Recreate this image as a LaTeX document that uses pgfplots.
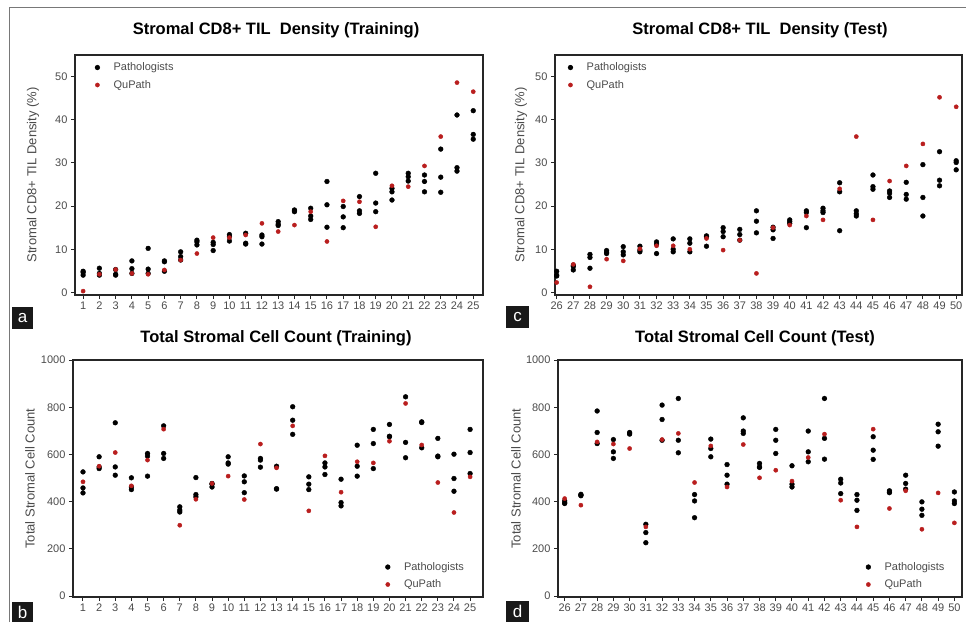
\documentclass[border=0pt]{standalone}
\usepackage{pgfplots}
\pgfplotsset{compat=1.18}
\usepackage{fontspec}
\setmainfont{Liberation Sans}
\definecolor{qred}{RGB}{185,30,30}
\definecolor{tgray}{RGB}{75,75,75}
\definecolor{framegray}{RGB}{120,120,120}
\pgfplotsset{
  panel/.style={
    scale only axis,
    axis line style={line width=1.3pt, black!85},
    tick style={line width=1pt, black!85},
    major tick length=4pt,
    tick align=outside,
    xtick pos=bottom, ytick pos=left,
    ticklabel style={font=\fontsize{11}{12}\selectfont, text=tgray},
    xticklabel style={yshift=1pt},
    /pgf/number format/assume math mode=true,
    /pgf/number format/set thousands separator={},
    ylabel style={font=\fontsize{13}{14}\selectfont, text=tgray, at={(rel axis cs:0,0.5)}, anchor=center},
    legend style={draw=none, fill=none, font=\fontsize{11}{12}\selectfont, text=tgray, row sep=4pt},
    legend cell align=left,
    legend image code/.code={\path (0pt,-2pt) (22pt,2pt); \draw[##1] plot coordinates {(8pt,0pt)};},
    clip=false,
  },
  pmark/.style={only marks, mark=*, mark size=2.4pt, black},
  qmark/.style={only marks, mark=*, mark size=2.1pt, qred},
}
\begin{document}
\begin{tikzpicture}[x=1pt,y=1pt]
\useasboundingbox (0,0) rectangle (966,622);
% outer frame
\draw[framegray, line width=1pt] (9,0) -- (9,614) -- (966,614);
% titles
\node[font=\fontsize{16.5}{18}\selectfont\bfseries] at (276,592) {Stromal CD8+ TIL\ \ Density (Training)};
\node[font=\fontsize{16.5}{18}\selectfont\bfseries] at (760,592) {Stromal CD8+ TIL\ \ Density (Test)};
\node[font=\fontsize{16.5}{18}\selectfont\bfseries] at (276,284) {Total Stromal Cell Count (Training)};
\node[font=\fontsize{16.5}{18}\selectfont\bfseries] at (755,284) {Total Stromal Cell Count (Test)};
% panel letters
\fill[black!90] (12,293) rectangle (33,315);
\node[text=white, font=\fontsize{17}{18}\selectfont] at (22.5,304) {a};
\fill[black!90] (12,0) rectangle (33,20);
\node[text=white, font=\fontsize{17}{18}\selectfont] at (22.5,10) {b};
\fill[black!90] (506,294) rectangle (529,316);
\node[text=white, font=\fontsize{17}{18}\selectfont] at (517.5,305) {c};
\fill[black!90] (506,0) rectangle (529,21);
\node[text=white, font=\fontsize{17}{18}\selectfont] at (517.5,10.5) {d};

% ---------------- Panel a ----------------
\begin{axis}[panel, at={(75pt,327pt)}, anchor=south west, width=408pt, height=240pt,
  xmin=0.5, xmax=25.6, ymin=-0.6, ymax=55,
  xtick={1,...,25}, ytick={0,10,20,30,40,50},
  ylabel={Stromal CD8+ TIL Density (\%)}, ylabel style={yshift=42pt},
  legend style={at={(rel axis cs:0.027,0.985)}, anchor=north west}]
\addplot[pmark] table {
x y
1 4.9
1 4.6
1 4.0
2 5.6
2 4.4
2 4.0
3 5.3
3 4.2
3 4.0
4 7.3
4 5.5
4 4.4
5 10.2
5 5.4
5 4.4
6 7.3
6 7.1
6 4.9
7 9.4
7 8.3
7 7.5
8 12.1
8 11.7
8 11.0
9 11.6
9 11.1
9 9.7
10 13.4
10 12.9
10 11.9
11 13.7
11 11.4
11 11.2
12 13.3
12 12.9
12 11.2
13 16.4
13 15.8
13 15.5
14 19.1
14 18.9
14 18.7
15 19.5
15 17.7
15 16.9
16 25.7
16 20.3
16 15.1
17 19.9
17 17.5
17 15.0
18 22.2
18 18.9
18 18.3
19 27.6
19 20.7
19 18.7
20 24.1
20 23.3
20 21.4
21 27.6
21 26.8
21 25.8
22 27.2
22 25.7
22 23.3
23 33.2
23 26.7
23 23.2
24 41.1
24 28.9
24 28.1
25 42.1
25 36.6
25 35.5
};
\addlegendentry{Pathologists}
\addplot[qmark] table {
x y
1 0.3
2 4.2
3 5.3
4 4.4
5 4.2
6 5.2
7 7.5
8 9.0
9 12.7
10 12.7
11 13.3
12 16.0
13 14.1
14 15.6
15 18.7
16 11.8
17 21.2
18 21.0
19 15.2
20 24.7
21 24.5
22 29.3
23 36.1
24 48.6
25 46.5
};
\addlegendentry{QuPath}
\end{axis}

% ---------------- Panel c ----------------
\begin{axis}[panel, at={(555pt,327pt)}, anchor=south west, width=407pt, height=240pt,
  xmin=25.9, xmax=50.35, ymin=-0.6, ymax=55,
  xtick={26,...,50}, ytick={0,10,20,30,40,50},
  ylabel={Stromal CD8+ TIL Density (\%)}, ylabel style={yshift=34pt},
  legend style={at={(rel axis cs:0.01,0.985)}, anchor=north west}]
\addplot[pmark] table {
x y
26 4.9
26 4.0
26 3.8
27 6.3
27 6.0
27 5.2
28 8.8
28 8.1
28 5.6
29 9.7
29 9.3
29 9.0
30 10.6
30 9.4
30 8.7
31 10.7
31 9.8
31 9.4
32 11.7
32 11.2
32 9.0
33 12.4
33 10.0
33 9.4
34 12.4
34 11.4
34 9.4
35 13.1
35 12.9
35 10.7
36 15.0
36 14.1
36 12.9
37 14.6
37 13.4
37 12.1
38 18.9
38 16.5
38 13.8
39 15.1
39 14.5
39 12.5
40 16.8
40 16.4
40 16.0
41 18.9
41 18.5
41 15.0
42 19.5
42 18.9
42 18.5
43 25.4
43 23.3
43 14.3
44 18.9
44 18.2
44 17.7
45 27.2
45 24.5
45 23.9
46 23.5
46 23.0
46 22.0
47 25.5
47 22.7
47 21.6
48 29.6
48 22.0
48 17.7
49 32.6
49 26.0
49 24.7
50 30.5
50 30.1
50 28.4
};
\addlegendentry{Pathologists}
\addplot[qmark] table {
x y
26 2.3
27 6.5
28 1.3
29 7.7
30 7.3
31 10.1
32 10.8
33 10.8
34 10.0
35 12.5
36 9.8
37 12.1
38 4.4
39 15.0
40 15.6
41 17.7
42 16.8
43 24.0
44 36.1
45 16.8
46 25.8
47 29.3
48 34.4
49 45.2
50 43.0
};
\addlegendentry{QuPath}
\end{axis}

% ---------------- Panel b ----------------
\begin{axis}[panel, at={(73pt,25pt)}, anchor=south west, width=410pt, height=237pt,
  xmin=0.38, xmax=25.8, ymin=-4, ymax=1000,
  xtick={1,...,25}, ytick={0,200,400,600,800,1000},
  ylabel={Total Stromal Cell Count}, ylabel style={yshift=43pt},
  legend style={at={(rel axis cs:0.74,0.015)}, anchor=south west}]
\addplot[pmark] table {
x y
1 526
1 458
1 437
2 590
2 547
2 540
3 734
3 547
3 512
4 501
4 462
4 451
5 604
5 593
5 508
6 721
6 604
6 583
7 378
7 364
7 356
8 502
8 430
8 420
9 477
9 474
9 462
10 590
10 564
10 559
11 509
11 484
11 438
12 583
12 576
12 546
13 550
13 455
13 453
14 802
14 745
14 685
15 505
15 474
15 451
16 564
16 547
16 515
17 495
17 396
17 382
18 639
18 550
18 508
19 706
19 646
19 540
20 727
20 677
20 675
21 844
21 651
21 586
22 738
22 735
22 628
23 668
23 593
23 590
24 601
24 498
24 444
25 706
25 608
25 519
};
\addlegendentry{Pathologists}
\addplot[qmark] table {
x y
1 484
2 550
3 608
4 467
5 576
6 707
7 300
8 410
9 477
10 508
11 409
12 644
13 543
14 721
15 361
16 594
17 440
18 569
19 564
20 656
21 816
22 640
23 481
24 354
25 505
};
\addlegendentry{QuPath}
\end{axis}

% ---------------- Panel d ----------------
\begin{axis}[panel, at={(558pt,25pt)}, anchor=south west, width=404pt, height=237pt,
  xmin=25.59, xmax=50.47, ymin=-4, ymax=1000,
  xtick={26,...,50}, ytick={0,200,400,600,800,1000},
  ylabel={Total Stromal Cell Count}, ylabel style={yshift=42pt},
  legend style={at={(rel axis cs:0.74,0.015)}, anchor=south west}]
\addplot[pmark] table {
x y
26 403
26 395
26 392
27 431
27 428
27 425
28 784
28 693
28 646
29 663
29 611
29 583
30 693
30 689
30 686
31 304
31 269
31 226
32 809
32 748
32 660
33 837
33 660
33 607
34 430
34 403
34 332
35 665
35 625
35 590
36 557
36 512
36 474
37 755
37 699
37 689
38 562
38 547
38 545
39 706
39 660
39 604
40 552
40 474
40 462
41 699
41 611
41 569
42 837
42 668
42 580
43 495
43 479
43 434
44 430
44 406
44 363
45 675
45 618
45 579
46 446
46 441
46 438
47 512
47 477
47 453
48 399
48 368
48 342
49 728
49 696
49 635
50 441
50 403
50 392
};
\addlegendentry{Pathologists}
\addplot[qmark] table {
x y
26 413
27 385
28 653
29 644
30 625
31 293
32 663
33 689
34 481
35 636
36 462
37 642
38 501
39 533
40 487
41 587
42 686
43 406
44 293
45 707
46 371
47 446
48 283
49 437
50 310
};
\addlegendentry{QuPath}
\end{axis}
\end{tikzpicture}
\end{document}
